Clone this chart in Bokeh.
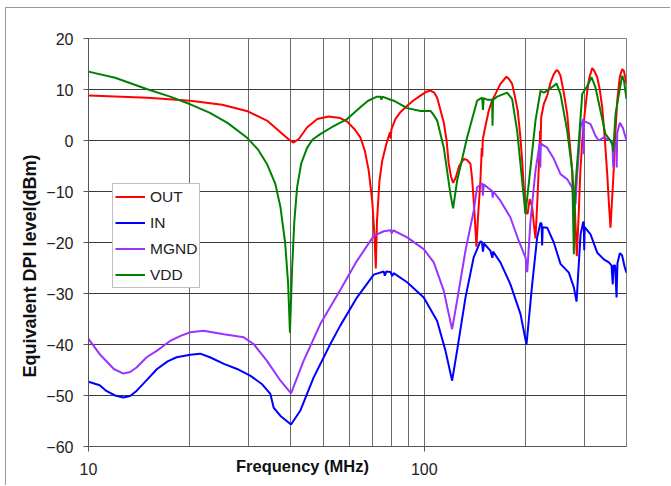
from bokeh.plotting import figure
from bokeh.models import FixedTicker, Legend, LegendItem, Label, Title, PrintfTickFormatter
from bokeh.embed import file_html
from bokeh.resources import INLINE

# ---------------- data ----------------
out_f = [10, 15, 20.1, 25, 29.6, 34, 37.3, 39.5, 40.8, 42.3, 44.8, 48, 51.9, 56.2, 58.9, 62, 64.5,
         66.5, 68.3, 70, 71.1, 71.7, 72.3, 73.5, 74.9, 77, 79.0, 79.4, 79.8, 82, 85, 88.9, 93, 97.4,
         101, 104.3, 107, 109.2, 111.7, 114.3, 116.5, 118.2, 120, 121.8, 124, 127, 131.1, 134, 137.2,
         138.8, 140.3, 142, 143, 144.5, 146.9, 148.3, 148.8, 149.3, 152, 155.5, 159, 162.8, 168.5,
         175.6, 179, 182.6, 186, 189.8, 193, 195.6, 198, 200.1, 203, 206, 209.5, 212, 214.3, 217, 220,
         221.3, 222, 222.8, 227, 232.2, 238, 243, 247.5, 250.5, 254.4, 260, 266.4, 271, 275.7, 281,
         284.5, 288, 291.5, 295.3, 300, 305.6, 310, 316.2, 321, 327.3, 333, 338.7, 345, 350.5, 355,
         358.5, 362, 366.8, 371, 375.4, 382, 388.5, 393, 397, 400]
out_db = [8.8, 8.4, 7.8, 7.0, 5.8, 3.9, 1.6, 0.2, -0.4, 0.3, 2.6, 4.2, 4.7, 4.4, 3.7, 2.2, 0.6,
          -2.0, -5.9, -12.0, -19.0, -25.1, -15.7, -8.0, -4.0, -0.8, 1.6, 0.4, 2.2, 4.2, 5.6, 6.8, 7.9, 8.8,
          9.5, 9.8, 9.4, 8.4, 6.0, 3.5, 0.0, -4.5, -7.0, -8.3, -7.3, -5.0, -3.6, -3.8, -4.6,
          -7.5, -11.8, -17.5, -20.8, -15.0, -7.9, -1.5, -3.2, 0.2, 2.8, 5.8, 7.8, 9.1, 11.1,
          12.5, 12.0, 11.1, 8.7, 5.8, 1.0, -4.0, -9.5, -14.0, -14.4, -11.5, -13.0, -16.5, -19.2, -12.0, -3.0,
          1.9, -0.5, 4.5, 7.2, 8.8, 11.5, 13.0, 13.8, 13.6, 12.7, 9.5, 5.2, -0.5, -5.9, -14.0,
          -22.7, -15.0, -6.0, -0.1, 5.0, 9.7, 12.3, 14.2, 13.6, 12.4, 10.0, 6.5, 0.0, -6.6, -13.0,
          -17.1, -12.0, -5.3, 2.0, 7.8, 12.5, 14.0, 13.6, 12.2, 11.0]

in_f = [10, 10.8, 11.3, 12.0, 12.7, 13.3, 13.9, 15.0, 16, 17.2, 18.3, 20.1, 21.5, 23, 25.3, 27.7, 30.3, 32.9,
        34.8, 35.6, 37.3, 40.1, 42.7, 46.8, 52.5, 56.2, 63, 70.7, 75.7, 76.3, 77, 79.3, 80.3, 81, 88.9,
        99.6, 109.2, 115.6, 121, 125.2, 132.6, 140.3, 146.9, 148.5, 149.5, 150.5, 157.3, 159.5, 160.3,
        168.5, 180.5, 193.3, 201.5, 209.5, 216.8, 221.8, 223.5, 224.3, 225.2, 232.2, 243, 254.4, 269.4,
        278.8, 284, 291.9, 297.4, 298.5, 299.3, 300.3, 312.6, 327.3, 342.4, 354.4, 361, 364, 366, 370,
        373.6, 376, 382.2, 388, 395, 400]
in_db = [-47.3, -48.0, -49.1, -50.0, -50.4, -50.1, -49.1, -46.8, -44.8, -43.3, -42.5, -42.0, -41.8, -42.5, -43.8, -44.8, -46.1, -47.8,
         -49.7, -52.4, -54.0, -55.7, -53.0, -46.5, -39.9, -36.3, -30.8, -26.3, -25.7, -26.5, -25.7, -25.8, -26.6, -26.0, -27.8,
         -30.8, -35.4, -41.2, -47.1, -41.2, -30.8, -22.9, -19.8, -19.9, -21.8, -20.2, -21.6, -23.0, -21.8,
         -23.9, -28.2, -34.0, -40.0, -28.2, -19.0, -16.1, -16.4, -20.6, -17.0, -17.1, -20.0, -24.2, -25.9,
         -28.8, -31.6, -18.4, -15.9, -16.2, -21.5, -17.0, -18.4, -22.0, -23.3, -23.9, -24.5, -28.2, -24.5, -24.5,
         -30.8, -24.0, -22.1, -22.5, -24.8, -25.9]

mgnd_f = [10, 10.8, 11.9, 12.7, 13.3, 13.9, 14.9, 16, 17.5, 18.8, 20.1, 22, 25.3, 29, 31, 34, 37.3, 40.1,
          43.7, 49, 56.2, 63, 70.7, 75.7, 79.3, 80, 80.7, 88.9, 99.6, 106.7, 114.3, 118.2, 121, 125.2,
          132.6, 140.3, 143.6, 148.7, 149.4, 150.2, 155, 159.2, 159.8, 160.5, 168.5, 180.5, 191.1, 200.1,
          202.5, 207.1, 214.3, 220.8, 221.5, 222.3, 226.9, 232.2, 243, 254.4, 266.4, 275.7, 282, 285,
          291.9, 297.4, 298.2, 299, 312.6, 323.4, 330.9, 342.4, 358.5, 363, 365.3, 367, 373, 374, 375.4,
          382.2, 390, 400]
mgnd_db = [-38.9, -41.9, -44.8, -45.7, -45.4, -44.5, -42.5, -41.2, -39.3, -38.3, -37.6, -37.3, -38.0, -38.6, -39.9, -43.2, -47.1, -49.6,
           -43.2, -36.0, -29.3, -23.6, -18.7, -17.8, -17.6, -18.2, -17.6, -19.0, -21.3, -23.9, -29.5, -34.0, -37.0, -31.4,
           -21.6, -13.8, -9.2, -8.4, -10.8, -8.6, -9.3, -9.9, -11.2, -10.0, -11.8, -15.1, -19.7, -22.9,
           -25.8, -15.7, -5.9, -0.4, -5.3, -0.6, -1.0, -1.4, -3.6, -6.6, -7.6, -9.2, -12.5, -7.0,
           2.55, 4.2, -2.7, 3.8, 3.2, 0.9, 0.0, 0.6, 0.0, -0.5, -5.3, -0.3, -0.3, -5.3, 1.5,
           3.5, 2.5, 0.0]

vdd_f = [10, 12, 14.9, 17.5, 20.1, 23, 26, 29.6, 32, 34, 36, 37.3, 38.5, 39.3, 39.8, 40.4, 41.0, 41.8,
         43, 44.8, 46.5, 49, 53, 58.9, 64.5, 68, 72.3, 74.0, 74.5, 75, 79.3, 81.1, 88.9, 97.4, 104.3,
         106.7, 109.2, 114.3, 119.6, 121.8, 125.2, 134.1, 143.6, 148.7, 149.5, 150.2, 153.8, 159.2,
         159.6, 160.2, 164.8, 176.5, 182.6, 189, 195.6, 200.1, 207.1, 214.3, 221.8, 226.9, 232.2, 243,
         247.5, 254.4, 266.4, 275.7, 277.5, 278.8, 281, 288.5, 295.3, 305.6, 314.8, 323.4, 334.7, 346.4,
         358.5, 364, 365.3, 366.5, 371.1, 379.6, 388.5, 393, 400]
vdd_db = [13.5, 12.3, 10.1, 8.6, 7.1, 5.4, 3.4, 0.6, -1.8, -4.6, -8.5, -13.1, -20.0, -28.0, -37.7, -25.0, -16.0, -9.2,
          -4.5, -1.4, 0.2, 1.25, 2.6, 4.2, 6.5, 7.8, 8.6, 8.6, 8.0, 8.6, 8.0, 7.8, 6.35, 5.8, 5.8,
          5.0, 3.9, -1.4, -10.5, -13.3, -7.9, 0.6, 7.8, 8.4, 6.0, 8.3, 8.0, 8.0,
          2.9, 8.0, 8.6, 9.4, 8.1, 1.9, -7.9, -14.4, -5.3, 3.9, 9.75, 9.4, 9.8, 10.7,
          11.2, 9.1, 1.9, -5.9, -15.7, -22.3, -10.0, -0.06, 9.1, 10.7, 12.4, 10.4, 5.8, 1.25,
          0.0, -1.0, -2.2, -0.5, 5.2, 9.1, 12.7, 11.8, 8.1]

series_names = ["OUT", "IN", "MGND", "VDD"]
series_colors = ["#FF0000", "#0000FF", "#9933FF", "#008000"]

y_ticks = [-60, -50, -40, -30, -20, -10, 0, 10, 20]
x_label_ticks = [10, 100]
x_grid_ticks = [10, 20, 30, 40, 50, 60, 70, 80, 90, 100, 200, 300, 400]

x_title = "Frequency (MHz)"
y_title = "Equivalent DPI level(dBm)"

# ---------------- figure ----------------
p = figure(width=665, height=478, x_axis_type="log", x_range=(10, 400), y_range=(-60, 20),
           output_backend="svg", toolbar_location=None,
           min_border_left=82, min_border_right=45, min_border_top=30, min_border_bottom=40,
           styles={"margin-left": "5px", "margin-top": "7px",
                   "border-left": "1px solid #9a9a9a", "border-top": "1px solid #9a9a9a"})
p.background_fill_color = "white"
p.border_fill_color = "white"
p.outline_line_color = "#808080"
p.outline_line_width = 1

FONT = "Liberation Sans"

p.xaxis.ticker = FixedTicker(ticks=x_label_ticks)
p.xaxis.formatter = PrintfTickFormatter(format="%d")
p.xaxis.minor_tick_line_color = None
p.xaxis.major_tick_in = 0
p.xaxis.major_tick_out = 5
p.xaxis.major_label_standoff = 11
p.yaxis.ticker = FixedTicker(ticks=y_ticks)
p.yaxis.minor_tick_line_color = None
p.yaxis.major_tick_in = 0
p.yaxis.major_tick_out = 5
p.yaxis.major_label_standoff = 10
for ax in (p.xaxis, p.yaxis):
    ax.major_label_text_font = FONT
    ax.major_label_text_font_size = "16px"
    ax.major_label_text_color = "#222222"
    ax.axis_line_color = "#555555"
    ax.major_tick_line_color = "#555555"

p.xgrid.ticker = FixedTicker(ticks=x_grid_ticks)
p.xgrid.grid_line_color = "#6a6a6a"
p.xgrid.grid_line_width = 1
p.ygrid.ticker = FixedTicker(ticks=y_ticks)
p.ygrid.grid_line_color = "#3a3a3a"
p.ygrid.grid_line_width = 1

data = [(out_f, out_db), (in_f, in_db), (mgnd_f, mgnd_db), (vdd_f, vdd_db)]
renderers = []
for (fx, dy), c in zip(data, series_colors):
    r = p.line(fx, dy, line_color=c, line_width=2)
    renderers.append(r)

legend = Legend(items=[LegendItem(label=n, renderers=[r]) for n, r in zip(series_names, renderers)],
                location=(24, 158), margin=0, padding=2, spacing=5,
                label_height=21, glyph_height=21, glyph_width=30, label_standoff=5,
                label_text_font=FONT, label_text_font_size="15.5px", label_text_color="#222222",
                border_line_color="#808080", border_line_width=1,
                background_fill_color="white", background_fill_alpha=1.0)
p.add_layout(legend, "center")

# y axis title (vertical, bottom-to-top), placed in the left panel
ytitle = Title(text=y_title, align="left", offset=69, standoff=7,
               text_font=FONT, text_font_size="18px", text_font_style="bold", text_color="#111111")
p.add_layout(ytitle, "left")

# x axis title sits on the tick-label line, left of centre -> canvas-positioned label
xlab = Label(x=295, y=456, x_units="canvas", y_units="canvas", text=x_title,
             text_font=FONT, text_font_size="16.5px", text_font_style="bold",
             text_align="center", text_baseline="middle", text_color="#111111")
p.add_layout(xlab, "above")

open("out.html", "w").write(file_html(p, INLINE))
